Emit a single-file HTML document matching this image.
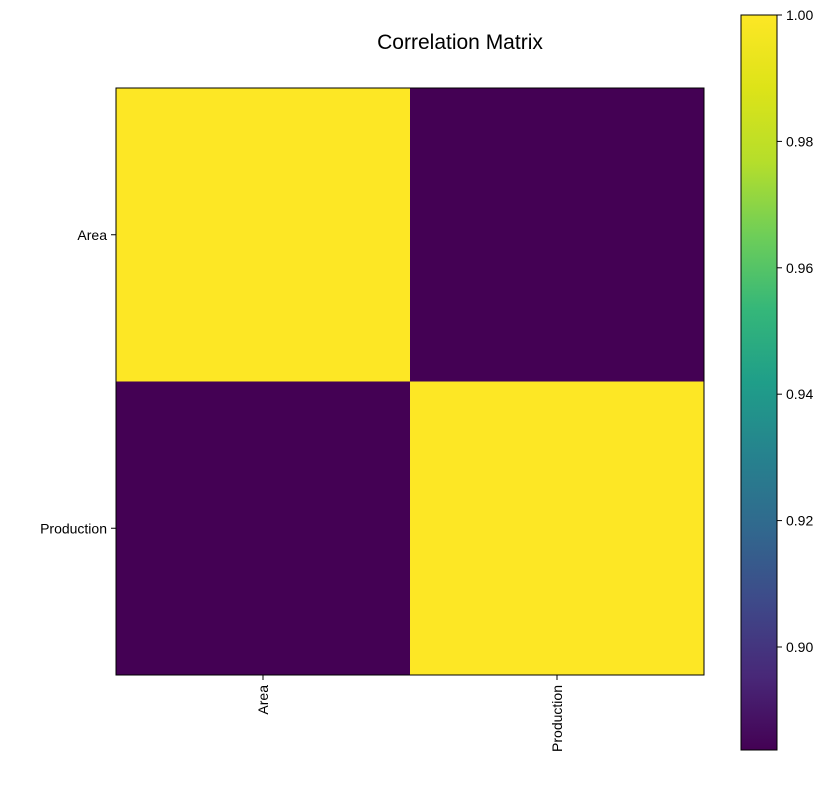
<!DOCTYPE html>
<html><head><meta charset="utf-8"><style>
body{margin:0;background:#fff;}
svg{display:block;font-family:"Liberation Sans","DejaVu Sans",sans-serif;}
</style></head><body>
<svg id="chart" width="838" height="787">
<defs>
<linearGradient id="vir" x1="0" y1="1" x2="0" y2="0">
<stop offset="0" stop-color="#440154"/><stop offset="0.1" stop-color="#482878"/>
<stop offset="0.2" stop-color="#3e4989"/><stop offset="0.3" stop-color="#31688e"/>
<stop offset="0.4" stop-color="#26828e"/><stop offset="0.5" stop-color="#1f9e89"/>
<stop offset="0.6" stop-color="#35b779"/><stop offset="0.7" stop-color="#6ece58"/>
<stop offset="0.8" stop-color="#b5de2b"/><stop offset="0.9" stop-color="#dde318"/>
<stop offset="1" stop-color="#fde725"/>
</linearGradient>
</defs>
<text x="460" y="49" font-size="21" text-anchor="middle">Correlation Matrix</text>
<g id="cells"></g>
<g id="axes"></g>
<rect x="741" y="15" width="36" height="735" fill="url(#vir)" stroke="#000" stroke-width="1"/>
<g id="cbticks"></g>
</svg>
<script>
const labels = ["Area","Production"];
const matrix = [[1.0, 0.8837],[0.8837, 1.0]];
const cbTicks = [0.90, 0.92, 0.94, 0.96, 0.98, 1.00];
const vmin = 0.8837, vmax = 1.0;

const NS="http://www.w3.org/2000/svg";
const L=116,T=88,W=588,H=587;
const cbTop=15,cbBot=750,cbX=777;
const viridis=["#440154","#482878","#3e4989","#31688e","#26828e","#1f9e89","#35b779","#6ece58","#b5de2b","#dde318","#fde725"];
function hex(h){return [1,3,5].map(i=>parseInt(h.substr(i,2),16));}
function color(v){let t=(v-vmin)/(vmax-vmin);t=Math.max(0,Math.min(1,t))*10;const i=Math.min(9,Math.floor(t)),f=t-i;const a=hex(viridis[i]),b=hex(viridis[i+1]);return "rgb("+a.map((c,k)=>Math.round(c+(b[k]-c)*f)).join(",")+")";}
function mk(tag,attrs,parent){const e=document.createElementNS(NS,tag);for(const k in attrs)e.setAttribute(k,attrs[k]);parent.appendChild(e);return e;}
const n=labels.length,cw=W/n,ch=H/n;
const cells=document.getElementById('cells'),axes=document.getElementById('axes'),cbt=document.getElementById('cbticks');
for(let i=0;i<n;i++)for(let j=0;j<n;j++){
 const r=mk('rect',{x:L+j*cw,y:T+i*ch,width:cw+0.5,height:ch+0.5,fill:color(matrix[i][j])},cells);
 
 
}
mk('rect',{x:L,y:T,width:W,height:H,fill:'none',stroke:'#000','stroke-width':1},axes);
for(let k=0;k<n;k++){
 const y=T+(k+0.5)*ch,x=L+(k+0.5)*cw;
 mk('line',{x1:L-5,x2:L,y1:y,y2:y,stroke:'#000'},axes);
 const ty=mk('text',{x:L-9,y:y+5,'font-size':14,'text-anchor':'end'},axes);ty.textContent=labels[k];
 
 
 mk('line',{x1:x,x2:x,y1:T+H,y2:T+H+5,stroke:'#000'},axes);
 const tx=mk('text',{x:0,y:0,'font-size':14,'text-anchor':'end',transform:'translate('+(x+5)+','+(T+H+10)+') rotate(-90)'},axes);tx.textContent=labels[k];
 
 
}
cbTicks.forEach(v=>{
 const y=cbBot-(v-vmin)/(vmax-vmin)*(cbBot-cbTop);
 mk('line',{x1:cbX,x2:cbX+5,y1:y,y2:y,stroke:'#000'},cbt);
 const t=mk('text',{x:cbX+9,y:y+5,'font-size':14},cbt);t.textContent=v.toFixed(2);
 
 
});
</script>
</body></html>
